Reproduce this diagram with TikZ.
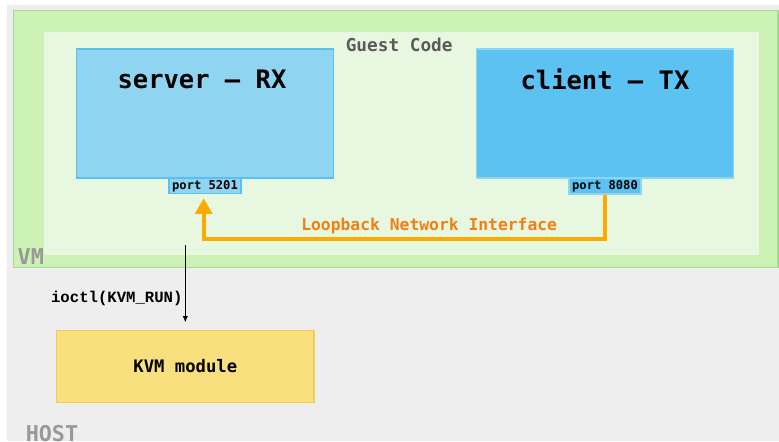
\documentclass[tikz,border=0pt]{standalone}
\usepackage{fontspec}
\setmonofont{DejaVu Sans Mono}
\newfontfamily\callfont{Liberation Mono}
\usetikzlibrary{arrows.meta}

\begin{document}
\begin{tikzpicture}[x=0.02cm,y=-0.02cm,
  appbox/.style={draw,line width=0.85pt,inner sep=0pt,minimum width=5.15cm,minimum height=2.58cm},
  portbox/.style={draw,line width=0.85pt,inner sep=0pt,minimum width=1.44cm,minimum height=0.31cm,
    font=\ttfamily\bfseries\fontsize{6.9}{8}\selectfont},
  bigtext/.style={anchor=base,inner sep=0pt,font=\ttfamily\bfseries\fontsize{14.5}{17}\selectfont},
  arealabel/.style={anchor=base,inner sep=0pt,text=labelgray,font=\ttfamily\bfseries\fontsize{12.4}{14}\selectfont}]

\definecolor{hostgray}{RGB}{238,238,238}
\definecolor{vmgreen}{RGB}{204,242,181}
\definecolor{vmborder}{RGB}{168,218,149}
\definecolor{guestgreen}{RGB}{232,247,224}
\definecolor{lightblue}{RGB}{143,213,242}
\definecolor{lightblueb}{RGB}{91,192,240}
\definecolor{midblue}{RGB}{91,194,242}
\definecolor{kvmyellow}{RGB}{248,224,126}
\definecolor{kvmborder}{RGB}{246,200,90}
\definecolor{loopline}{RGB}{255,170,0}
\definecolor{looptext}{RGB}{240,128,20}
\definecolor{guestgray}{RGB}{90,90,90}
\definecolor{labelgray}{RGB}{153,153,153}

\useasboundingbox (0,0) rectangle (779,441);

% areas
\fill[hostgray] (7,5) rectangle (779,441);
\draw[fill=vmgreen,draw=vmborder,line width=1pt] (13.5,10.5) rectangle (778,267.5);
\fill[guestgreen] (44,32) rectangle (759,255);

\node[arealabel,text=guestgray,font=\ttfamily\bfseries\fontsize{10.1}{12}\selectfont] (guestlbl) at (399.2,51) {Guest Code};
\node[arealabel] (vmlbl) at (30.8,264.3) {VM};
\node[arealabel] (hostlbl) at (52,441) {HOST};

% guest programs
\node[appbox,fill=lightblue,draw=lightblueb] (server) at (205,113.5) {};
\node[appbox,fill=midblue,draw=lightblue] (client) at (605,113.3) {};
\node[bigtext] (serverlbl) at (202,88.5) {server – RX};
\node[bigtext] (clientlbl) at (605,89) {client – TX};

\node[portbox,fill=lightblue,draw=lightblueb] (p5201) at (205,185.8) {port 5201};
\node[portbox,fill=midblue,draw=lightblue] (p8080) at (605,186.2) {port 8080};

% loopback
\coordinate (loopturn) at (203.7,239.3);
\draw[loopline,line width=2.3pt,-{Triangle[width=9.5pt,length=9pt]},shorten >=2.2pt]
  (p8080.south) |- (loopturn) -- (loopturn |- p5201.south);
\node[anchor=base,inner sep=0pt,text=looptext,font=\ttfamily\bfseries\fontsize{9.3}{11}\selectfont] (looplbl) at (429.2,230) {Loopback Network Interface};

% host side
\node[draw=kvmborder,fill=kvmyellow,line width=0.85pt,minimum width=5.15cm,minimum height=1.44cm,
  font=\ttfamily\bfseries\fontsize{9.8}{12}\selectfont] (kvm) at (185.3,366.5) {KVM module};

\coordinate (ioctlstart) at (185.3,245);
\draw[line width=0.6pt,-{Latex[length=3.5pt,width=3pt]},shorten >=4.2pt] (ioctlstart) -- (ioctlstart |- kvm.north);
\node[anchor=base,inner sep=0pt,font=\callfont\bfseries\fontsize{8.9}{10}\selectfont] (ioctllbl) at (116.8,302) {ioctl(KVM\_RUN)};

\end{tikzpicture}
\end{document}
